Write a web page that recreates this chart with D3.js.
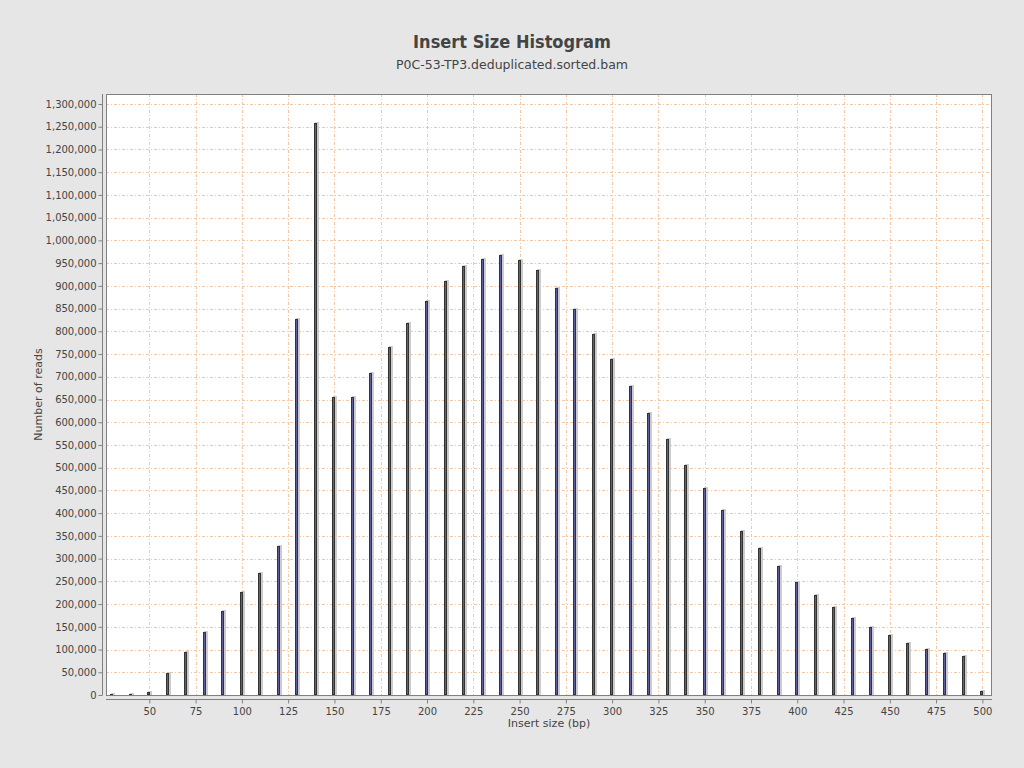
<!DOCTYPE html>
<html>
<head>
<meta charset="utf-8">
<script src="https://cdn.jsdelivr.net/npm/d3@7"></script>
<style>
  html, body { margin: 0; padding: 0; background: #e6e6e6; }
  svg { display: block; font-family: "DejaVu Sans", sans-serif; }
</style>
</head>
<body>
<svg id="chart" width="1024" height="768"></svg>
<script>
const title = "Insert Size Histogram";
const subtitle = "P0C-53-TP3.deduplicated.sorted.bam";
const xLabel = "Insert size (bp)";
const yLabel = "Number of reads";

const insertSizes = [30, 40, 50, 60, 70, 80, 90, 100, 110, 120, 130, 140, 150, 160, 170, 180, 190, 200,
  210, 220, 230, 240, 250, 260, 270, 280, 290, 300, 310, 320, 330, 340, 350, 360, 370, 380, 390, 400,
  410, 420, 430, 440, 450, 460, 470, 480, 490, 500];
const readCounts = [2000, 1500, 6000, 48000, 95000, 139000, 185000, 227000, 268000, 328000, 827000, 1258000,
  655000, 655000, 708000, 765000, 818000, 866000, 910000, 943000, 960000, 967000, 956000, 934000, 895000,
  849000, 794000, 739000, 680000, 620000, 563000, 506000, 455000, 407000, 361000, 323000, 284000, 249000,
  220000, 194000, 170000, 150000, 132000, 115000, 101000, 92000, 86000, 9000];
const xTicks = [50, 75, 100, 125, 150, 175, 200, 225, 250, 275, 300, 325, 350, 375, 400, 425, 450, 475, 500];
const yTicks = d3.range(0, 1300001, 50000);

const svg = d3.select("#chart");
const plot = { left: 106, top: 94, right: 992, bottom: 695 };

svg.append("rect").attr("width", 1024).attr("height", 768).attr("fill", "#e6e6e6");

const x = d3.scaleLinear().domain([26.6, 505.2]).range([plot.left, plot.right]);
const y = d3.scaleLinear().domain([0, 1322000]).range([plot.bottom, plot.top]);

// titles
svg.append("text").attr("x", 512).attr("y", 48).attr("text-anchor", "middle")
  .attr("font-size", 18).attr("font-weight", "bold").attr("fill", "#444")
  .attr("font-family", "'DejaVu Sans Condensed', 'DejaVu Sans', sans-serif")
  .text(title);
svg.append("text").attr("x", 512).attr("y", 69).attr("text-anchor", "middle")
  .attr("font-size", 12.5).attr("fill", "#444")
  .attr("font-family", "'DejaVu Sans', sans-serif")
  .text(subtitle);

// plot background
svg.append("rect").attr("x", plot.left).attr("y", plot.top)
  .attr("width", plot.right - plot.left).attr("height", plot.bottom - plot.top)
  .attr("fill", "#ffffff");

// grid
const grid = svg.append("g").attr("stroke", "#f4c7a4").attr("stroke-width", 1)
  .attr("stroke-dasharray", "3,2,1,2");
grid.selectAll("line.h").data(yTicks).join("line")
  .attr("x1", plot.left).attr("x2", plot.right)
  .attr("y1", d => Math.round(y(d)) + 0.5).attr("y2", d => Math.round(y(d)) + 0.5);
grid.selectAll("line.v").data(xTicks).join("line")
  .attr("y1", plot.top).attr("y2", plot.bottom)
  .attr("x1", d => Math.round(x(d)) + 0.5).attr("x2", d => Math.round(x(d)) + 0.5);

// bars
const bars = svg.append("g");
bars.selectAll("rect.shadow").data(insertSizes).join("rect")
  .attr("x", (d) => Math.round(x(d)) - 1)
  .attr("y", (d, i) => Math.round(y(readCounts[i])) - 1)
  .attr("width", 4)
  .attr("height", (d, i) => plot.bottom - Math.round(y(readCounts[i])) + 1)
  .attr("fill", "#cccccc");
bars.selectAll("rect.bar").data(insertSizes).join("rect")
  .attr("x", (d) => Math.round(x(d)) - 1.5)
  .attr("y", (d, i) => Math.round(y(readCounts[i])) + 0.5)
  .attr("width", 2)
  .attr("height", (d, i) => Math.max(0, plot.bottom - Math.round(y(readCounts[i])) - 0.5))
  .attr("fill", "#5e5e9e")
  .attr("stroke", "#333")
  .attr("stroke-width", 1);

// plot border
svg.append("rect").attr("x", plot.left + 0.5).attr("y", plot.top + 0.5)
  .attr("width", plot.right - plot.left - 1).attr("height", plot.bottom - plot.top)
  .attr("fill", "none").attr("stroke", "#808080");

// axes
const yAxis = d3.axisLeft(y).tickValues(yTicks).tickSize(4).tickSizeOuter(0)
  .tickFormat(d3.format(","));
const gy = svg.append("g").attr("transform", "translate(102.5,0)").call(yAxis);
const xAxis = d3.axisBottom(x).tickValues(xTicks).tickSize(4).tickSizeOuter(0);
const gx = svg.append("g").attr("transform", "translate(0,699.5)").call(xAxis);
[gx, gy].forEach(g => {
  g.select(".domain").attr("stroke", "#808080");
  g.selectAll(".tick line").attr("stroke", "#808080");
  g.selectAll(".tick text").attr("fill", "#444").attr("font-size", 10)
    .attr("font-family", "'DejaVu Sans', sans-serif");
});
gx.select(".domain").attr("d", `M${plot.left},0H${plot.right}`);
gy.select(".domain").attr("d", `M0,${plot.top}V${plot.bottom}`);
gy.selectAll(".tick text").attr("x", -6);
gx.selectAll(".tick text").attr("y", 8);

svg.append("text").attr("x", (plot.left + plot.right) / 2).attr("y", 727)
  .attr("text-anchor", "middle").attr("font-size", 11).attr("fill", "#444")
  .text(xLabel);
svg.append("text").attr("transform", `translate(42,${(plot.top + plot.bottom) / 2}) rotate(-90)`)
  .attr("text-anchor", "middle").attr("font-size", 11).attr("fill", "#444")
  .text(yLabel);
</script>
</body>
</html>
